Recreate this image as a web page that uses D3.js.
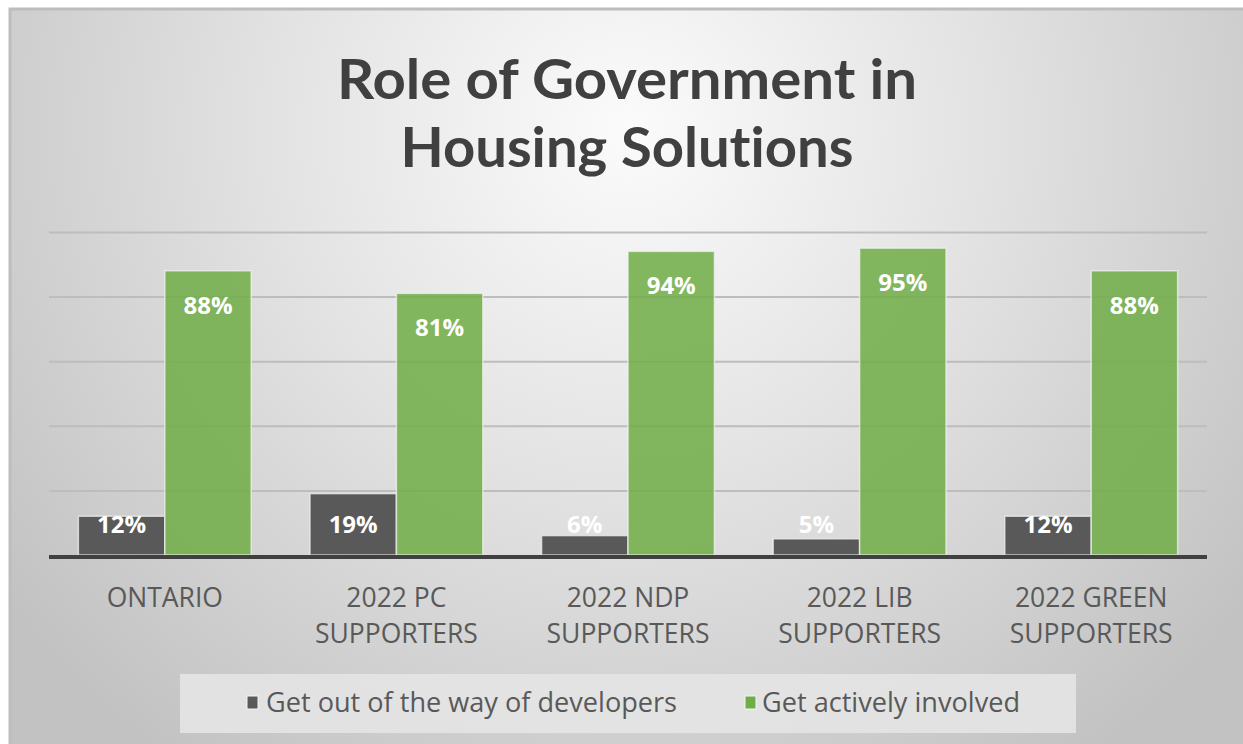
<!DOCTYPE html>
<html>
<head>
<meta charset="utf-8">
<script src="https://cdn.jsdelivr.net/npm/d3@7"></script>
<style>
  html, body { margin: 0; padding: 0; background: #ffffff; }
  svg { display: block; }
  text { font-family: "Open Sans", "DejaVu Sans", sans-serif; }
  text.title { font-family: Lato, "Open Sans", sans-serif; font-variant-ligatures: none; font-feature-settings: "liga" 0, "clig" 0; }
</style>
</head>
<body>
<svg id="chart" width="1243" height="744"></svg>
<script>
// Survey results: share choosing each role for government, by group
const categories = [
  ["ONTARIO"],
  ["2022 PC", "SUPPORTERS"],
  ["2022 NDP", "SUPPORTERS"],
  ["2022 LIB", "SUPPORTERS"],
  ["2022 GREEN", "SUPPORTERS"]
];
const seriesNames = ["Get out of the way of developers", "Get actively involved"];
const getOutOfTheWay = [12, 19, 6, 5, 12];
const activelyInvolved = [88, 81, 94, 95, 88];
const gridTicks = [20, 40, 60, 80, 100];
const titleLines = ["Role of Government in", "Housing Solutions"];

const seriesColors = ["#595959", "#70ad47"];

const svg = d3.select("#chart");
const W = 1243, H = 744;

// Background panel with soft radial shading
const defs = svg.append("defs");
const grad = defs.append("radialGradient")
  .attr("id", "bg")
  .attr("gradientUnits", "userSpaceOnUse")
  .attr("cx", 628).attr("cy", 130).attr("r", 780);
grad.append("stop").attr("offset", "0%").attr("stop-color", "#fbfbfb");
grad.append("stop").attr("offset", "45%").attr("stop-color", "#e3e3e3");
grad.append("stop").attr("offset", "100%").attr("stop-color", "#c2c2c2");

svg.append("rect")
  .attr("x", 10).attr("y", 9)
  .attr("width", W + 20).attr("height", H + 20)
  .attr("fill", "url(#bg)")
  .attr("stroke", "#bdbdbd")
  .attr("stroke-width", 3);

// Title, one text element per line
svg.append("g")
  .selectAll("text")
  .data(titleLines)
  .join("text")
  .attr("class", "title")
  .attr("text-anchor", "middle")
  .attr("fill", "#404040")
  .attr("font-weight", 700)
  .attr("font-size", 56)
  .attr("x", 627)
  .attr("y", (d, i) => 99 + i * 68)
  .attr("textLength", (d, i) => [580, 453][i])
  .attr("lengthAdjust", "spacingAndGlyphs")
  .text(d => d);

// Scales
const plotLeft = 49, plotRight = 1207;
const y = d3.scaleLinear().domain([0, 100]).range([555, 232]);

const x0 = d3.scaleBand()
  .domain(d3.range(categories.length))
  .range([plotLeft, plotRight])
  .paddingInner(0).paddingOuter(0);

const x1 = d3.scaleBand()
  .domain(d3.range(seriesNames.length))
  .range([0, x0.bandwidth()])
  .paddingInner(0).paddingOuter(0.34);

// Gridlines
const grid = svg.append("g")
  .attr("transform", `translate(${plotLeft},0)`)
  .call(d3.axisLeft(y).tickValues(gridTicks).tickSize(-(plotRight - plotLeft)).tickFormat(""));
grid.select(".domain").remove();
grid.selectAll(".tick line").attr("stroke", "#bdbdbd").attr("stroke-width", 2);

// Bars
const rows = categories.map((c, i) => [getOutOfTheWay[i], activelyInvolved[i]]);

const groups = svg.append("g")
  .selectAll("g")
  .data(rows)
  .join("g")
  .attr("transform", (d, i) => `translate(${x0(i)},0)`);

groups.selectAll("rect")
  .data(d => d.map((v, s) => ({ v, s })))
  .join("rect")
  .attr("x", d => x1(d.s))
  .attr("width", x1.bandwidth())
  .attr("y", d => y(d.v))
  .attr("height", d => y(0) - y(d.v))
  .attr("fill", d => seriesColors[d.s])
  .attr("fill-opacity", d => d.s === 1 ? 0.86 : 1)
  .attr("stroke", "#f4f4f4")
  .attr("stroke-opacity", 0.7)
  .attr("stroke-width", 1.5);

// Value labels: dark series near the base, green series inside the top
groups.selectAll("text.val")
  .data(d => d.map((v, s) => ({ v, s })))
  .join("text")
  .attr("class", "val")
  .attr("text-anchor", "middle")
  .attr("x", d => x1(d.s) + x1.bandwidth() / 2)
  .attr("y", d => d.s === 0 ? y(0) - 22 : y(d.v) + 43)
  .attr("fill", "#ffffff")
  .attr("font-weight", 700)
  .attr("font-size", 24)
  .text(d => d.v + "%");

// Baseline
svg.append("line")
  .attr("x1", plotLeft).attr("x2", plotRight)
  .attr("y1", y(0) + 2).attr("y2", y(0) + 2)
  .attr("stroke", "#404040")
  .attr("stroke-width", 4);

// Category labels
const catLabels = svg.append("g")
  .selectAll("text")
  .data(categories)
  .join("text")
  .attr("text-anchor", "middle")
  .attr("fill", "#595959")
  .attr("font-size", 26.5);
catLabels.selectAll("tspan")
  .data((d, i) => d.map(t => ({ t, i })))
  .join("tspan")
  .attr("x", d => x0(d.i) + x0.bandwidth() / 2)
  .attr("y", (d, j) => 607 + j * 36)
  .text(d => d.t);

// Legend
const legend = svg.append("g");
legend.append("rect")
  .attr("x", 180).attr("y", 674)
  .attr("width", 896).attr("height", 59)
  .attr("fill", "#e4e4e4")
  .attr("fill-opacity", 0.9);

const legendItems = [
  { name: seriesNames[0], color: seriesColors[0], mx: 247, tx: 266, tw: 411 },
  { name: seriesNames[1], color: seriesColors[1], mx: 745, tx: 762, tw: 258 }
];
legend.selectAll("rect.key")
  .data(legendItems)
  .join("rect")
  .attr("class", "key")
  .attr("x", d => d.mx).attr("y", 696)
  .attr("width", 11).attr("height", 13)
  .attr("fill", d => d.color)
  .attr("stroke", "#f4f4f4")
  .attr("stroke-width", 1);
legend.selectAll("text")
  .data(legendItems)
  .join("text")
  .attr("x", d => d.tx)
  .attr("y", 712)
  .attr("fill", "#595959")
  .attr("font-size", 27)
  .attr("textLength", d => d.tw)
  .attr("lengthAdjust", "spacingAndGlyphs")
  .text(d => d.name);
</script>
</body>
</html>
